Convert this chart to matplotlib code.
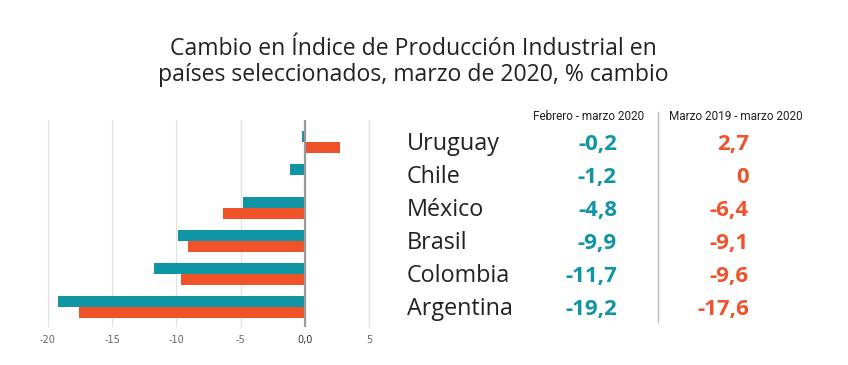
import matplotlib.pyplot as plt
import matplotlib.transforms as mtransforms
import numpy as np

# data
countries = ['Uruguay', 'Chile', 'México', 'Brasil', 'Colombia', 'Argentina']
feb_mar = [-0.2, -1.2, -4.8, -9.9, -11.7, -19.2]
mar_mar = [2.7, 0.0, -6.4, -9.1, -9.6, -17.6]
xticks = [-20, -15, -10, -5, 0, 5]
xticklabels = ['-20', '-15', '-10', '-5', '0,0', '5']
col_headers = ['Febrero - marzo 2020', 'Marzo 2019 - marzo 2020']
title = 'Cambio en Índice de Producción Industrial en\npaíses seleccionados, marzo de 2020, % cambio'

teal = '#0f95a3'
orange = '#f0522a'


def fmt(v):
    if v == 0:
        return '0'
    return f'{v:.1f}'.replace('.', ',')


fig = plt.figure(figsize=(8.48, 3.65), dpi=100)
ax = fig.add_axes([0.041, 0.1041, 0.4097, 0.567])

n = len(countries)
y = np.arange(n)[::-1]  # Uruguay on top
h = 0.34
ax.barh(y + h / 2, feb_mar, height=h, color=teal, zorder=3)
ax.barh(y - h / 2, mar_mar, height=h, color=orange, zorder=3)

ax.set_xlim(-21, 6)
ax.set_ylim(-0.6, n - 1 + 0.656)
ax.set_xticks(xticks)
ax.set_xticklabels(xticklabels)
ax.set_yticks([])
for s in ax.spines.values():
    s.set_visible(False)
ax.tick_params(axis='x', length=0, labelsize=7, labelcolor='#666666', pad=6)
ax.get_xticklabels()[4].set_color('#333333')
ax.grid(axis='x', color='#e3e3e3', lw=1, zorder=0)
ax.axvline(0, color='#9a9a9a', lw=1.6, zorder=4)

# title
fig.text(0.487, 0.83, title, ha='center', va='center', fontsize=16.6,
         family='Open Sans', color='#222222', linespacing=1.12)

# table on the right, rows aligned to the bar groups
tr = mtransforms.blended_transform_factory(fig.transFigure, ax.transData)
dy = -0.07
for yi, c, a, b in zip(y, countries, feb_mar, mar_mar):
    fig.text(407 / 848, yi + dy, c, transform=tr, ha='left', va='center',
             fontsize=16.8, family='Open Sans', color='#222222')
    fig.text(617 / 848, yi + dy, fmt(a), transform=tr, ha='right', va='center',
             fontsize=16, family='Open Sans', weight='bold', color=teal)
    fig.text(749 / 848, yi + dy, fmt(b), transform=tr, ha='right', va='center',
             fontsize=16, family='Open Sans', weight='bold', color=orange)

fig.text(589 / 848, 1 - 117 / 365, col_headers[0], ha='center', va='center',
         fontsize=8.5, family='Roboto', color='#222222')
fig.text(736 / 848, 1 - 117 / 365, col_headers[1], ha='center', va='center',
         fontsize=8.5, family='Roboto', color='#222222')
fig.add_artist(plt.Line2D([658 / 848, 658 / 848], [1 - 112 / 365, 1 - 322 / 365],
                          color='#bbbbbb', lw=1))

fig.savefig('out.png', dpi=100)
